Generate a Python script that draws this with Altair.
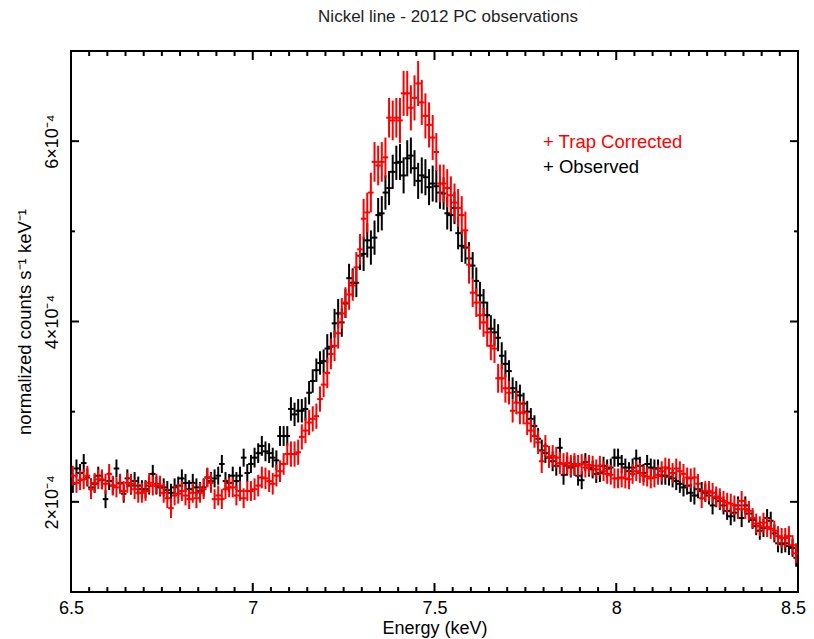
import altair as alt
import pandas as pd

# ---- data (values in units of 1e-4 counts s^-1 keV^-1) ----
E_START = 6.5
BIN_WIDTH = 0.01
N_BINS = 200

TRAP_CORRECTED = [
    2.29, 2.21, 2.24, 2.25, 2.29, 2.14, 2.21, 2.25, 2.25, 2.20,
    2.31, 2.18, 2.16, 2.20, 2.12, 2.21, 2.20, 2.14, 2.10, 2.10,
    2.12, 2.21, 2.18, 2.20, 2.18, 2.10, 2.04, 1.93, 2.07, 2.09,
    2.12, 2.07, 2.03, 2.10, 2.04, 2.10, 2.14, 2.27, 2.21, 2.03,
    2.07, 2.03, 2.14, 2.16, 2.16, 2.07, 2.12, 2.04, 2.12, 2.12,
    2.14, 2.18, 2.27, 2.26, 2.23, 2.20, 2.29, 2.34, 2.42, 2.53,
    2.53, 2.53, 2.55, 2.72, 2.79, 2.88, 2.92, 2.95, 3.14, 3.30,
    3.43, 3.64, 3.73, 3.87, 4.09, 4.21, 4.30, 4.40, 4.60, 4.80,
    5.14, 5.21, 5.43, 5.77, 5.73, 5.77, 5.82, 6.26, 6.23, 6.26,
    6.23, 6.53, 6.53, 6.37, 6.48, 6.64, 6.43, 6.28, 6.18, 6.04,
    5.88, 5.53, 5.53, 5.48, 5.40, 5.32, 5.26, 5.18, 5.01, 4.63,
    4.32, 4.21, 4.07, 3.99, 3.88, 3.73, 3.70, 3.37, 3.37, 3.26,
    3.21, 3.01, 3.10, 2.99, 2.99, 2.87, 2.79, 2.73, 2.66, 2.45,
    2.62, 2.50, 2.51, 2.49, 2.43, 2.42, 2.43, 2.40, 2.42, 2.40,
    2.42, 2.38, 2.41, 2.40, 2.36, 2.40, 2.34, 2.31, 2.30, 2.26,
    2.26, 2.27, 2.26, 2.25, 2.31, 2.34, 2.32, 2.29, 2.28, 2.26,
    2.27, 2.30, 2.34, 2.38, 2.37, 2.32, 2.37, 2.34, 2.31, 2.27,
    2.26, 2.27, 2.20, 2.04, 2.12, 2.12, 2.10, 2.06, 2.04, 2.01,
    1.99, 1.98, 1.96, 1.92, 2.01, 1.92, 1.90, 1.82, 1.76, 1.73,
    1.77, 1.72, 1.70, 1.68, 1.62, 1.60, 1.60, 1.62, 1.52, 1.43,
]

OBSERVED = [
    2.20, 2.37, 2.32, 2.43, 2.27, 2.16, 2.20, 2.29, 2.24, 2.03,
    2.23, 2.18, 2.37, 2.21, 2.09, 2.26, 2.18, 2.23, 2.18, 2.14,
    2.14, 2.18, 2.31, 2.18, 2.16, 2.16, 2.13, 2.10, 2.16, 2.18,
    2.26, 2.21, 2.14, 2.21, 2.16, 2.12, 2.16, 2.27, 2.23, 2.26,
    2.29, 2.42, 2.23, 2.21, 2.29, 2.23, 2.29, 2.49, 2.32, 2.42,
    2.49, 2.54, 2.62, 2.56, 2.54, 2.49, 2.46, 2.73, 2.73, 2.73,
    3.03, 2.97, 3.01, 3.01, 3.03, 3.21, 3.34, 3.46, 3.54, 3.56,
    3.70, 3.72, 3.98, 4.09, 3.99, 4.20, 4.48, 4.43, 4.43, 4.73,
    4.75, 4.90, 4.82, 4.93, 5.18, 5.20, 5.43, 5.48, 5.66, 5.76,
    5.77, 5.62, 5.81, 5.84, 5.70, 5.56, 5.62, 5.60, 5.49, 5.53,
    5.50, 5.43, 5.42, 5.20, 5.18, 5.26, 4.98, 4.84, 4.82, 4.70,
    4.62, 4.45, 4.29, 4.21, 4.07, 3.92, 3.88, 3.82, 3.62, 3.53,
    3.45, 3.26, 3.22, 3.18, 3.09, 3.00, 2.92, 2.84, 2.70, 2.57,
    2.54, 2.49, 2.45, 2.40, 2.60, 2.30, 2.40, 2.38, 2.40, 2.29,
    2.24, 2.44, 2.38, 2.36, 2.31, 2.32, 2.40, 2.37, 2.38, 2.49,
    2.49, 2.42, 2.38, 2.34, 2.38, 2.48, 2.40, 2.32, 2.42, 2.38,
    2.37, 2.37, 2.29, 2.29, 2.28, 2.26, 2.23, 2.20, 2.16, 2.18,
    2.10, 2.07, 2.14, 2.12, 2.10, 2.07, 1.96, 2.04, 2.01, 1.96,
    1.90, 1.84, 1.88, 1.96, 1.82, 1.96, 1.87, 1.80, 1.73, 1.68,
    1.71, 1.82, 1.79, 1.65, 1.54, 1.53, 1.54, 1.51, 1.49, 1.38,
]

# 1-sigma errors per 0.1 keV segment (same units)
TRAP_ERR_SEG = [0.11, 0.11, 0.11, 0.11, 0.11, 0.12, 0.14, 0.17, 0.22, 0.25,
                0.21, 0.16, 0.13, 0.12, 0.11, 0.11, 0.11, 0.11, 0.11, 0.11]
OBS_ERR_SEG = [0.10, 0.10, 0.10, 0.10, 0.10, 0.11, 0.13, 0.16, 0.19, 0.20,
               0.18, 0.15, 0.12, 0.11, 0.10, 0.10, 0.10, 0.10, 0.10, 0.10]

SERIES_NAMES = ["Observed", "Trap Corrected"]
SERIES_COLORS = ["#000000", "#ff0000"]

X_MAJOR = [7.0, 7.5, 8.0]
X_MINOR = [6.55, 6.6, 6.65, 6.7, 6.75, 6.8, 6.85, 6.9, 6.95,
           7.05, 7.1, 7.15, 7.2, 7.25, 7.3, 7.35, 7.4, 7.45,
           7.55, 7.6, 7.65, 7.7, 7.75, 7.8, 7.85, 7.9, 7.95,
           8.05, 8.1, 8.15, 8.2, 8.25, 8.3, 8.35, 8.4, 8.45]
X_LABELS = [6.5, 7.0, 7.5, 8.0, 8.5]
Y_MAJOR = [2e-4, 4e-4, 6e-4]
Y_MINOR = [3e-4, 5e-4]

# ---- build table ----
rows = []
for name, vals, errs in [("Observed", OBSERVED, OBS_ERR_SEG),
                         ("Trap Corrected", TRAP_CORRECTED, TRAP_ERR_SEG)]:
    for i, v in enumerate(vals):
        lo_e = E_START + i * BIN_WIDTH
        hi_e = lo_e + BIN_WIDTH
        err = errs[i // 10]
        rows.append({
            "series": name,
            "E": round(lo_e + BIN_WIDTH / 2, 4),
            "Elo": round(lo_e, 4),
            "Ehi": round(hi_e, 4),
            "rate": v * 1e-4,
            "lo": (v - err) * 1e-4,
            "hi": (v + err) * 1e-4,
        })
df = pd.DataFrame(rows)

W, H = 727, 541
FONT = "Liberation Sans"

xscale = alt.Scale(domain=[6.5, 8.5], nice=False, zero=False)
yscale = alt.Scale(domain=[1e-4, 7e-4], nice=False, zero=False)
color = alt.Color("series:N", scale=alt.Scale(domain=SERIES_NAMES, range=SERIES_COLORS), legend=None)

x_axis = alt.Axis(values=X_LABELS, format="~g", ticks=False, domain=False, grid=False,
                  labelFontSize=18, labelPadding=7, labelFlush=False, labelColor="black",
                  labelOffset={"condition": {"test": "datum.value == 8.5", "value": -5}, "value": 0},
                  labelFont=FONT, title="Energy (keV)", titleFontSize=18, titleFont=FONT,
                  titleFontWeight="normal", titlePadding=2, titleColor="black")
y_axis = alt.Axis(values=Y_MAJOR, labelExpr="format(datum.value*1e4, 'd') + '×10⁻⁴'",
                  ticks=False, domain=False, grid=False, labelAngle=-90, labelFontSize=18,
                  labelPadding=10, labelFlush=False, labelColor="black", labelFont=FONT,
                  title="normalized counts s⁻¹ keV⁻¹", titleFontSize=18.5, titleFont=FONT,
                  titleFontWeight="normal", titlePadding=9, titleColor="black")

X_TITLE = "Energy (keV)"
Y_TITLE = "normalized counts s⁻¹ keV⁻¹"

base = alt.Chart(df)
vbars = base.mark_rule(strokeWidth=2, clip=True).encode(
    x=alt.X("E:Q", scale=xscale, axis=x_axis, title=X_TITLE),
    y=alt.Y("lo:Q", scale=yscale, axis=y_axis, title=Y_TITLE),
    y2="hi:Q",
    color=color,
)
hbars = base.mark_rule(strokeWidth=2, strokeCap="square", clip=True).encode(
    x=alt.X("Elo:Q", scale=xscale, axis=x_axis, title=X_TITLE),
    x2="Ehi:Q",
    y=alt.Y("rate:Q", scale=yscale, axis=y_axis, title=Y_TITLE),
    color=color,
)

data_layers = []
for nm in SERIES_NAMES:  # observed first, trap corrected drawn on top
    data_layers.append(vbars.transform_filter(alt.datum.series == nm))
    data_layers.append(hbars.transform_filter(alt.datum.series == nm))

# ---- inward ticks ----
xmaj = pd.DataFrame({"t": X_MAJOR})
xmin = pd.DataFrame({"t": X_MINOR})
ymaj = pd.DataFrame({"t": Y_MAJOR})
ymin = pd.DataFrame({"t": Y_MINOR})

def xticks(d, length):
    enc_x = alt.X("t:Q", scale=xscale, axis=x_axis, title=X_TITLE)
    bot = alt.Chart(d).mark_rule(color="black", strokeWidth=2).encode(
        x=enc_x, y=alt.value(H), y2=alt.value(H - length))
    top = alt.Chart(d).mark_rule(color="black", strokeWidth=2).encode(
        x=enc_x, y=alt.value(0), y2=alt.value(length))
    return [bot, top]

def yticks(d, length):
    enc_y = alt.Y("t:Q", scale=yscale, axis=y_axis, title=Y_TITLE)
    left = alt.Chart(d).mark_rule(color="black", strokeWidth=2).encode(
        y=enc_y, x=alt.value(0), x2=alt.value(length))
    right = alt.Chart(d).mark_rule(color="black", strokeWidth=2).encode(
        y=enc_y, x=alt.value(W), x2=alt.value(W - length))
    return [left, right]

tick_layers = xticks(xmaj, 9) + xticks(xmin, 5) + yticks(ymaj, 8) + yticks(ymin, 4)

# ---- texts: title and legend ----
one = pd.DataFrame({"a": [0]})
title = alt.Chart(one).mark_text(text="Nickel line - 2012 PC observations", font=FONT,
                                 fontSize=17, color="#222222", align="center",
                                 baseline="alphabetic").encode(
    x=alt.value(377), y=alt.value(-29))
leg1 = alt.Chart(one).mark_text(text="+ Trap Corrected", font=FONT, fontSize=18.5,
                                color="#ff0000", align="left", baseline="alphabetic").encode(
    x=alt.value(472), y=alt.value(97))
leg2 = alt.Chart(one).mark_text(text="+ Observed", font=FONT, fontSize=18.5,
                                color="#000000", align="left", baseline="alphabetic").encode(
    x=alt.value(472), y=alt.value(122))

chart = alt.layer(*data_layers, *tick_layers, title, leg1, leg2).properties(
    width=W, height=H,
    autosize=alt.AutoSizeParams(type="none"),
    padding={"left": 63, "top": 43, "right": 8, "bottom": 47},
    background="white",
).configure_view(stroke="black", strokeWidth=2)

chart.save("out.html", embed_options={"renderer": "svg", "actions": False})
